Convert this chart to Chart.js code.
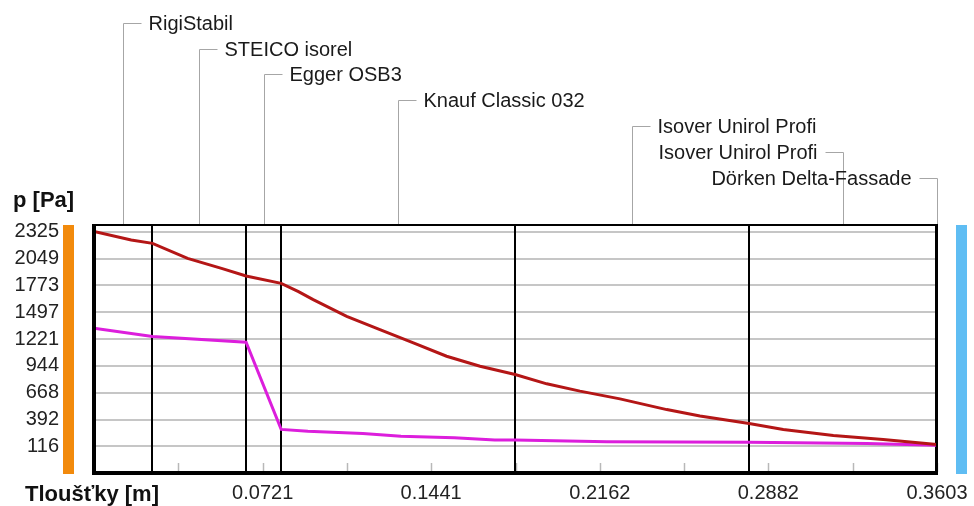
<!DOCTYPE html>
<html><head><meta charset="utf-8">
<script src="https://cdn.jsdelivr.net/npm/chart.js@4"></script>
<style>html,body{margin:0;padding:0;background:#fff;overflow:hidden;} #wrap{position:relative;width:974px;height:506px;}</style>
</head><body>
<div id="wrap"><canvas id="c"></canvas></div>
<script>
// ---- data ----
const layerNames = ['RigiStabil','STEICO isorel','Egger OSB3','Knauf Classic 032','Isover Unirol Profi','Isover Unirol Profi','Dörken Delta-Fassade'];
const layerBounds = [0, 0.025, 0.065, 0.080, 0.180, 0.280, 0.360, 0.3603];
const yTicks = [116, 392, 668, 944, 1221, 1497, 1773, 2049, 2325];
const yTickLabels = ['116','392','668','944','1221','1497','1773','2049','2325'];
const xTicks = [0.036, 0.0721, 0.1081, 0.1441, 0.1802, 0.2162, 0.2522, 0.2882, 0.3243, 0.3603];
const xTickLabels = ['', '0.0721', '', '0.1441', '', '0.2162', '', '0.2882', '', '0.3603'];
const xRed = [0, 0.0159, 0.025, 0.040, 0.0545, 0.065, 0.080, 0.0874, 0.0937, 0.108, 0.1222, 0.1365, 0.1507, 0.165, 0.180, 0.1935, 0.2077, 0.2248, 0.2448, 0.259, 0.280, 0.2946, 0.316, 0.3373, 0.3603];
const redVals = [2328, 2240, 2205, 2051, 1948, 1870, 1794, 1709, 1627, 1455, 1318, 1182, 1044, 941, 856, 760, 685, 605, 495, 430, 352, 291, 229, 188, 137];
const xPink = [0, 0.025, 0.065, 0.080, 0.0914, 0.1149, 0.1312, 0.154, 0.1713, 0.180, 0.2192, 0.280, 0.3304, 0.360, 0.3603];
const pinkVals = [1332, 1247, 1188, 291, 273, 250, 222, 205, 181, 181, 165, 160, 147, 128, 126];
const yTitle = 'p [Pa]';
const xTitle = 'Tloušťky [m]';

const FONT = '"Liberation Sans", Arial, sans-serif';

const decor = {
  id: 'decor',
  beforeDatasetsDraw(chart) {
    const {ctx, chartArea: a, scales: {x}} = chart;
    ctx.save();
    ctx.strokeStyle = '#b8b8b8'; ctx.lineWidth = 1.5;
    xTicks.forEach(v => {
      const px = Math.round(x.getPixelForValue(v)) + 0.5;
      ctx.beginPath(); ctx.moveTo(px, a.bottom - 9); ctx.lineTo(px, a.bottom); ctx.stroke();
    });
    ctx.strokeStyle = '#000'; ctx.lineWidth = 2;
    for (let i = 1; i < layerBounds.length - 1; i++) {
      const px = Math.round(x.getPixelForValue(layerBounds[i]));
      ctx.beginPath(); ctx.moveTo(px, a.top); ctx.lineTo(px, a.bottom); ctx.stroke();
    }
    ctx.restore();
  },
  afterDatasetsDraw(chart) {
    const {ctx, chartArea: a, scales: {x}} = chart;
    ctx.save();
    ctx.fillStyle = '#000';
    ctx.fillRect(a.left - 2, a.top - 1, 4, a.bottom - a.top + 3);
    ctx.fillRect(a.left - 2, a.bottom - 1, a.right - a.left + 3, 4);
    ctx.fillRect(a.left - 2, a.top - 1, a.right - a.left + 3, 2);
    ctx.fillRect(a.right - 1, a.top - 1, 2, a.bottom - a.top + 3);
    ctx.fillStyle = '#f28a0c';
    ctx.fillRect(63, a.top, 11, a.bottom - a.top + 2);
    ctx.fillStyle = '#5fbdf3';
    ctx.fillRect(956, a.top, 11, a.bottom - a.top + 2);
    ctx.font = '20px ' + FONT;
    ctx.textBaseline = 'middle';
    layerNames.forEach((name, i) => {
      const cx = Math.round(x.getPixelForValue((layerBounds[i] + layerBounds[i + 1]) / 2)) + 0.5;
      const ly = Math.round(22.7 + i * 25.8) + 0.5;
      const w = ctx.measureText(name).width;
      const right = cx + 25 + w < 960;
      ctx.strokeStyle = '#a6a6a6'; ctx.lineWidth = 1;
      ctx.beginPath();
      ctx.moveTo(cx, a.top - 1); ctx.lineTo(cx, ly);
      ctx.lineTo(right ? cx + 18 : cx - 18, ly);
      ctx.stroke();
      ctx.fillStyle = '#1a1a1a';
      if (right) { ctx.textAlign = 'left'; ctx.fillText(name, cx + 25, ly + 1); }
      else { ctx.textAlign = 'right'; ctx.fillText(name, cx - 26, ly + 1); }
    });
    ctx.font = 'bold 22px ' + FONT;
    ctx.textAlign = 'left'; ctx.textBaseline = 'alphabetic';
    ctx.fillStyle = '#111';
    ctx.fillText(yTitle, 13, 207);
    ctx.fillText(xTitle, 25, 501);
    ctx.restore();
  }
};

new Chart(document.getElementById('c'), {
  type: 'line',
  data: {
    datasets: [
      { data: xRed.map((v, i) => ({x: v, y: redVals[i]})), borderColor: '#b41616', borderWidth: 3, pointRadius: 0, tension: 0 },
      { data: xPink.map((v, i) => ({x: v, y: pinkVals[i]})), borderColor: '#dc1edc', borderWidth: 3, pointRadius: 0, tension: 0 }
    ]
  },
  options: {
    responsive: true, maintainAspectRatio: false, animation: false, devicePixelRatio: 1,
    layout: { padding: { top: 225, right: 37, left: 0, bottom: 0 } },
    plugins: { legend: { display: false }, tooltip: { enabled: false }, title: { display: false } },
    scales: {
      x: {
        type: 'linear', min: 0, max: 0.3603,
        afterBuildTicks: s => { s.ticks = xTicks.map(v => ({value: v})); },
        grid: { display: false }, border: { display: false },
        ticks: { autoSkip: false, maxRotation: 0, padding: 1, color: '#222', font: { family: FONT, size: 20 },
          callback: (v, i) => xTickLabels[i] }
      },
      y: {
        type: 'linear', min: -147, max: 2394,
        afterBuildTicks: s => { s.ticks = yTicks.map(v => ({value: v})); },
        afterFit: s => { s.width = 94; s.paddingTop = 0; s.paddingBottom = 0; },
        grid: { color: '#c6c6c6', lineWidth: 2, drawTicks: false }, border: { display: false },
        ticks: { padding: 35, color: '#222', font: { family: FONT, size: 20 },
          callback: (v, i) => yTickLabels[i] }
      }
    }
  },
  plugins: [decor]
});
</script>
</body></html>
